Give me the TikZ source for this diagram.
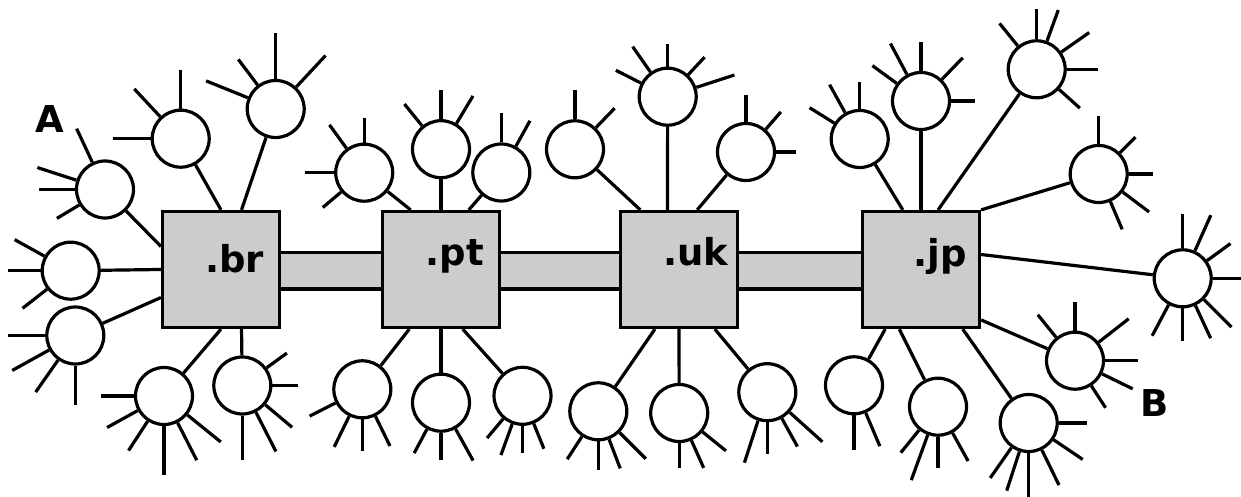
\documentclass[tikz,border=0pt]{standalone}
\usepackage{fontspec}
\setmainfont{DejaVu Sans}
\usepackage{xcolor}
\definecolor{boxgray}{HTML}{CCCCCC}
\usepackage{tikz}
\usetikzlibrary{calc}
\tikzset{%
    wire/.style={%
        draw=black, line width=3.2pt
    },
    host/.style={%
        circle, wire, fill=white, minimum size=57pt, inner sep=0pt
    },
    tld/.style={%
        rectangle, wire, fill=boxgray, minimum width=117pt, minimum height=116pt
    },
    tldname/.style={%
        anchor=base, inner sep=0pt, font=\bfseries\fontsize{37}{40}\selectfont
    },
    letter/.style={%
        inner sep=0pt, font=\bfseries\fontsize{37}{40}\selectfont
    },
}
\newcommand{\hostnode}[3]{%
    \node[host] (#1) at (#2) {};
    \foreach \ang/\lg in {#3} {\draw[wire] (#1.\ang) -- ++(\ang:\lg);}
}

\begin{document}
\begin{tikzpicture}[x=1pt, y=1pt]
    \useasboundingbox (0,0) rectangle (1241,497);

    \node[tld] (br) at (221,227.5) {};
    \node[tld] (pt) at (441,227.5) {};
    \node[tld] (uk) at (679,227.5) {};
    \node[tld] (jp) at (921,227.5) {};

    \foreach \u/\v in {br/pt, pt/uk, uk/jp} {
        \fill[boxgray] ([yshift=17pt]\u.east) rectangle ([yshift=-19.5pt]\v.west);
        \draw[wire] ([yshift=17pt]\u.east) -- ([yshift=17pt]\v.west)
                    ([yshift=-19.5pt]\u.east) -- ([yshift=-19.5pt]\v.west);
    }

    \node[tldname] (brname) at (234.5,224) {.br};
    \node[tldname] (ptname) at (455,231) {.pt};
    \node[tldname] (ukname) at (696,231) {.uk};
    \node[tldname] (jpname) at (940,230) {.jp};

    \node[letter] (A) at (49.5,377.5) {A};
    \node[letter] (B) at (1154.5,93.5) {B};

    \hostnode{brA}{105,307.5}{115/37, 162/41, 180/36, 211/26}
    \hostnode{brB}{180.7,358.3}{90/39, 133/38, 180/38}
    \hostnode{brC}{275.7,388}{90/46, 47/43, 127/32, 158/45}
    \hostnode{brD}{70.7,226.3}{151/34, 180/33, 218/31}
    \hostnode{brE}{75.3,161.5}{180/37, 209/42, 235/39, 270/39}
    \hostnode{brF}{164,101}{180/33, 209/35, 237/35, 270/49, 297/42, 321/43}
    \hostnode{brG}{242.3,111.5}{36/25, 0/26, 320/35, 297/44, 270/44}

    \hostnode{ptA}{364.2,324.3}{90/25, 126/29, 180/29, 220/24}
    \hostnode{ptB}{441,347.8}{90/29, 129/28, 59/32}
    \hostnode{ptC}{501.3,324.5}{90/29, 61/29}
    \hostnode{ptD}{362.3,107.7}{207/29, 244/34, 270/32, 296/33}
    \hostnode{ptE}{441,94.3}{242/27, 270/27, 299/36}
    \hostnode{ptF}{522.5,101.2}{230/25, 250/33, 270/27, 292/27}

    \hostnode{ukA}{575,347.7}{90/29, 46/27}
    \hostnode{ukB}{667.7,400.3}{90/23, 125/31, 153/28, 47/24, 18/40}
    \hostnode{ukC}{746,345}{90/27, 49/23, 0/20}
    \hostnode{ukD}{598.3,85.7}{237/27, 270/29, 291/31, 315/37}
    \hostnode{ukE}{679.2,84}{270/25, 294/30, 321/30}
    \hostnode{ukF}{767.3,104.8}{252/44, 270/32, 299/32, 318/44}

    \hostnode{jpA}{859.7,358}{90/27, 119/32, 148/29}
    \hostnode{jpB}{921,396}{90/29, 118/35, 144/30, 46/30, 0/24}
    \hostnode{jpC}{1036.7,427.7}{90/30, 70/33, 129/29, 35/34, 0/31, 318/28}
    \hostnode{jpD}{1098.7,323}{90/28, 45/22, 0/24, 323/33, 293/30}
    \hostnode{jpE}{1182.7,218.7}{90/34, 66/39, 36/29, 0/30, 315/39, 295/36, 270/33, 242/35}
    \hostnode{jpF}{1075,136.3}{90/29, 129/29, 38/38, 0/33, 334/34, 303/26}
    \hostnode{jpG}{854,111.7}{270/35, 293/36}
    \hostnode{jpH}{938,90.3}{231/29, 250/48, 270/31, 299/32}
    \hostnode{jpI}{1028.7,74}{0/28, 326/35, 296/39, 270/44, 252/41, 235/37}

    \draw[wire] (brA) -- (br.159);
    \draw[wire] (brB) -- (br.north);
    \draw[wire] (brC) -- (br.71);
    \draw[wire] (brD) -- (br.west);
    \draw[wire] (brE) -- (br.205);
    \draw[wire] (brF) -- (br.south);
    \draw[wire] (brG) -- (br.289);

    \draw[wire] (ptA) -- (pt.117);
    \draw[wire] (ptB) -- (pt.north);
    \draw[wire] (ptC) -- (pt.65);
    \draw[wire] (ptD) -- (pt.242);
    \draw[wire] (ptE) -- (pt.south);
    \draw[wire] (ptF) -- (pt.290);

    \draw[wire] (ukA) -- (uk.123);
    \draw[wire] (ukB) -- (uk.101);
    \draw[wire] (ukC) -- (uk.73);
    \draw[wire] (ukD) -- (uk.248);
    \draw[wire] (ukE) -- (uk.south);
    \draw[wire] (ukF) -- (uk.301);

    \draw[wire] (jpA) -- (jp.107);
    \draw[wire] (jpB) -- (jp.north);
    \draw[wire] (jpC) -- (jp.74);
    \draw[wire] (jpD) -- (jp.north east);
    \draw[wire] (jpE) -- (jp.14.5);
    \draw[wire] (jpF) -- (jp.320);
    \draw[wire] (jpG) -- (jp.239);
    \draw[wire] (jpH) -- (jp.250.5);
    \draw[wire] (jpI) -- (jp.305);
\end{tikzpicture}
\end{document}
